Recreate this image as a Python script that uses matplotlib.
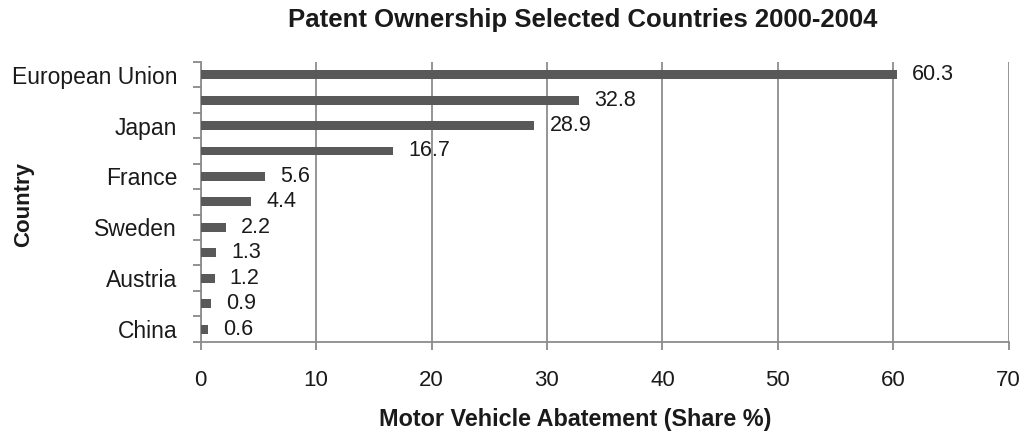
import numpy as np
import matplotlib.pyplot as plt
from matplotlib.ticker import FixedLocator

countries = ['European Union', '', 'Japan', '', 'France', '', 'Sweden', '', 'Austria', '', 'China']
shares = [60.3, 32.8, 28.9, 16.7, 5.6, 4.4, 2.2, 1.3, 1.2, 0.9, 0.6]
value_labels = ['60.3', '32.8', '28.9', '16.7', '5.6', '4.4', '2.2', '1.3', '1.2', '0.9', '0.6']

plt.rc('font', family='Liberation Sans', size=16)
dark = '#1a1a1a'

fig = plt.figure(figsize=(10.24, 4.36), dpi=100)
ax = fig.add_axes([0.196, 0.216, 0.789, 0.642])

y = np.arange(len(countries))
ax.barh(y, shares, height=0.35, color='#595959', zorder=3)
for yi, v, t in zip(y, shares, value_labels):
    ax.annotate(t, (v, yi), xytext=(11, 0), textcoords='offset points',
                va='center', ha='left', fontsize=15.5, color=dark, zorder=4)

ax.set_xlim(0, 70)
ax.set_ylim(len(countries) - 0.5, -0.5)
ax.set_xticks(range(0, 71, 10))
ax.set_yticks(y)
ax.set_yticklabels(countries, color=dark, fontsize=16.5)
ax.tick_params(axis='y', which='major', length=0, pad=17)
ax.yaxis.set_minor_locator(FixedLocator(np.arange(-0.5, len(countries), 1)))
ax.tick_params(axis='y', which='minor', length=6, color='#7f7f7f', width=1.2)
ax.tick_params(axis='x', length=6, color='#7f7f7f', width=1.2, pad=14,
               labelcolor=dark, labelsize=16)

ax.grid(axis='x', color='#8c8c8c', linewidth=1.3, zorder=0)
for s in ['top', 'right']:
    ax.spines[s].set_visible(False)
for s in ['left', 'bottom']:
    ax.spines[s].set_color('#8c8c8c')
    ax.spines[s].set_linewidth(1.3)

fig.text(583 / 1024, 1 - 20 / 436, 'Patent Ownership Selected Countries 2000-2004',
         fontsize=18.5, fontweight='bold', ha='center', va='center', color=dark)
fig.text(575 / 1024, 1 - 419 / 436, 'Motor Vehicle Abatement (Share %)',
         fontsize=16.8, fontweight='bold', ha='center', va='center', color=dark)
fig.text(24 / 1024, 1 - 204 / 436, 'Country', rotation=90,
         fontsize=16, fontweight='bold', ha='center', va='center', color=dark)

fig.savefig('out.png', dpi=100)
